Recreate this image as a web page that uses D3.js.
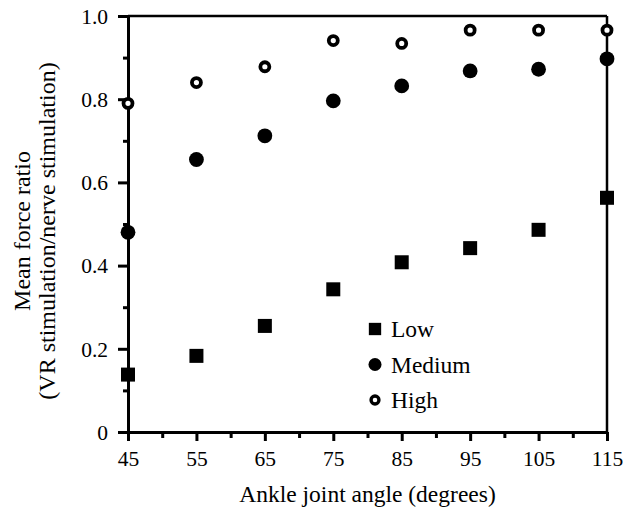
<!DOCTYPE html>
<html>
<head>
<meta charset="utf-8">
<script src="https://cdn.jsdelivr.net/npm/d3@7"></script>
<style>
  html, body { margin: 0; padding: 0; background: #fff; }
  svg { display: block; }
  svg text { font-family: "Liberation Serif", "Times New Roman", Times, "DejaVu Serif", serif !important; fill: #000; }
</style>
</head>
<body>
<svg id="chart" width="623" height="508"></svg>
<script>
// Ankle joint angles (degrees)
const angles = [45, 55, 65, 75, 85, 95, 105, 115];
// Mean force ratio (VR stimulation / nerve stimulation) per stimulus strength
const lowValues    = [0.138, 0.183, 0.255, 0.343, 0.408, 0.442, 0.486, 0.563];
const mediumValues = [0.480, 0.655, 0.712, 0.796, 0.832, 0.868, 0.872, 0.897];
const highValues   = [0.790, 0.840, 0.878, 0.941, 0.934, 0.966, 0.966, 0.966];
const seriesNames  = ["Low", "Medium", "High"];
const xTickValues  = [45, 55, 65, 75, 85, 95, 105, 115];
const yTickValues  = [0, 0.2, 0.4, 0.6, 0.8, 1.0];

const svg = d3.select("#chart");
const margin = { left: 128, right: 16, top: 16, bottom: 76 };
const W = 623, H = 508;

const x = d3.scaleLinear().domain([45, 115]).range([margin.left, W - margin.right]);
const y = d3.scaleLinear().domain([0, 1]).range([H - margin.bottom, margin.top]);

const axisW = 3;

// Frame (top and right edges)
svg.append("line")
  .attr("x1", x(45)).attr("x2", x(115)).attr("y1", y(1)).attr("y2", y(1))
  .attr("stroke", "#000").attr("stroke-width", 2.5);
svg.append("line")
  .attr("x1", x(115)).attr("x2", x(115)).attr("y1", y(1)).attr("y2", y(0))
  .attr("stroke", "#000").attr("stroke-width", 2.5);

// X axis: major ticks with labels, minor ticks between
svg.append("g").attr("transform", `translate(0,${y(0)})`)
  .call(d3.axisBottom(x).tickValues(xTickValues).tickSize(9).tickPadding(10).tickSizeOuter(0));
svg.append("g").attr("transform", `translate(0,${y(0)})`)
  .call(d3.axisBottom(x).tickValues(d3.range(50, 115, 10)).tickSize(6).tickFormat("").tickSizeOuter(0))
  .select(".domain").remove();

// Y axis
const yAxis = svg.append("g").attr("transform", `translate(${x(45)},0)`)
  .call(d3.axisLeft(y).tickValues(yTickValues).tickSize(10).tickPadding(10).tickSizeOuter(0)
    .tickFormat(d => d === 0 ? "0" : d3.format(".1f")(d)));
svg.append("g").attr("transform", `translate(${x(45)},0)`)
  .call(d3.axisLeft(y).tickValues([0.1, 0.3, 0.5, 0.7, 0.9]).tickSize(5).tickFormat("").tickSizeOuter(0))
  .select(".domain").remove();

svg.selectAll(".domain").attr("stroke-width", axisW).attr("stroke", "#000");
svg.selectAll(".tick line").attr("stroke-width", axisW).attr("stroke", "#000");
svg.selectAll(".tick text").attr("font-size", 21.5);
yAxis.selectAll(".tick text").attr("dy", "0.34em");

// Axis titles
svg.append("text")
  .attr("x", (x(45) + x(115)) / 2).attr("y", 502)
  .attr("text-anchor", "middle").attr("font-size", 23.5)
  .text("Ankle joint angle (degrees)");
const yt = svg.append("g").attr("transform", `translate(0,231) rotate(-90)`);
yt.append("text").attr("x", 0).attr("y", 30)
  .attr("text-anchor", "middle").attr("font-size", 24)
  .text("Mean force ratio");
yt.append("text").attr("x", 0).attr("y", 55)
  .attr("text-anchor", "middle").attr("font-size", 24)
  .text("(VR stimulation/nerve stimulation)");

// Marker drawers
function drawMarker(g, kind, cx, cy, s = 1) {
  if (kind === "Low") {
    g.append("rect").attr("x", cx - 7 * s).attr("y", cy - 7 * s)
      .attr("width", 14 * s).attr("height", 14 * s).attr("fill", "#000");
  } else if (kind === "Medium") {
    g.append("circle").attr("cx", cx).attr("cy", cy).attr("r", 7.4 * s).attr("fill", "#000");
  } else {
    g.append("circle").attr("cx", cx).attr("cy", cy).attr("r", 4.5 * s)
      .attr("fill", "#fff").attr("stroke", "#000").attr("stroke-width", 3.8 * s);
  }
}

const seriesValues = { Low: lowValues, Medium: mediumValues, High: highValues };
const pts = svg.append("g");
seriesNames.forEach(name => {
  seriesValues[name].forEach((v, i) => drawMarker(pts, name, x(angles[i]), y(v)));
});

// Legend
const legend = svg.append("g");
seriesNames.forEach((name, i) => {
  const ly = 329 + i * 35.5;
  drawMarker(legend, name, 375, ly, 0.88);
  legend.append("text").attr("x", 391).attr("y", ly).attr("dy", "0.35em")
    .attr("font-size", 23.5).text(name);
});
</script>
</body>
</html>
